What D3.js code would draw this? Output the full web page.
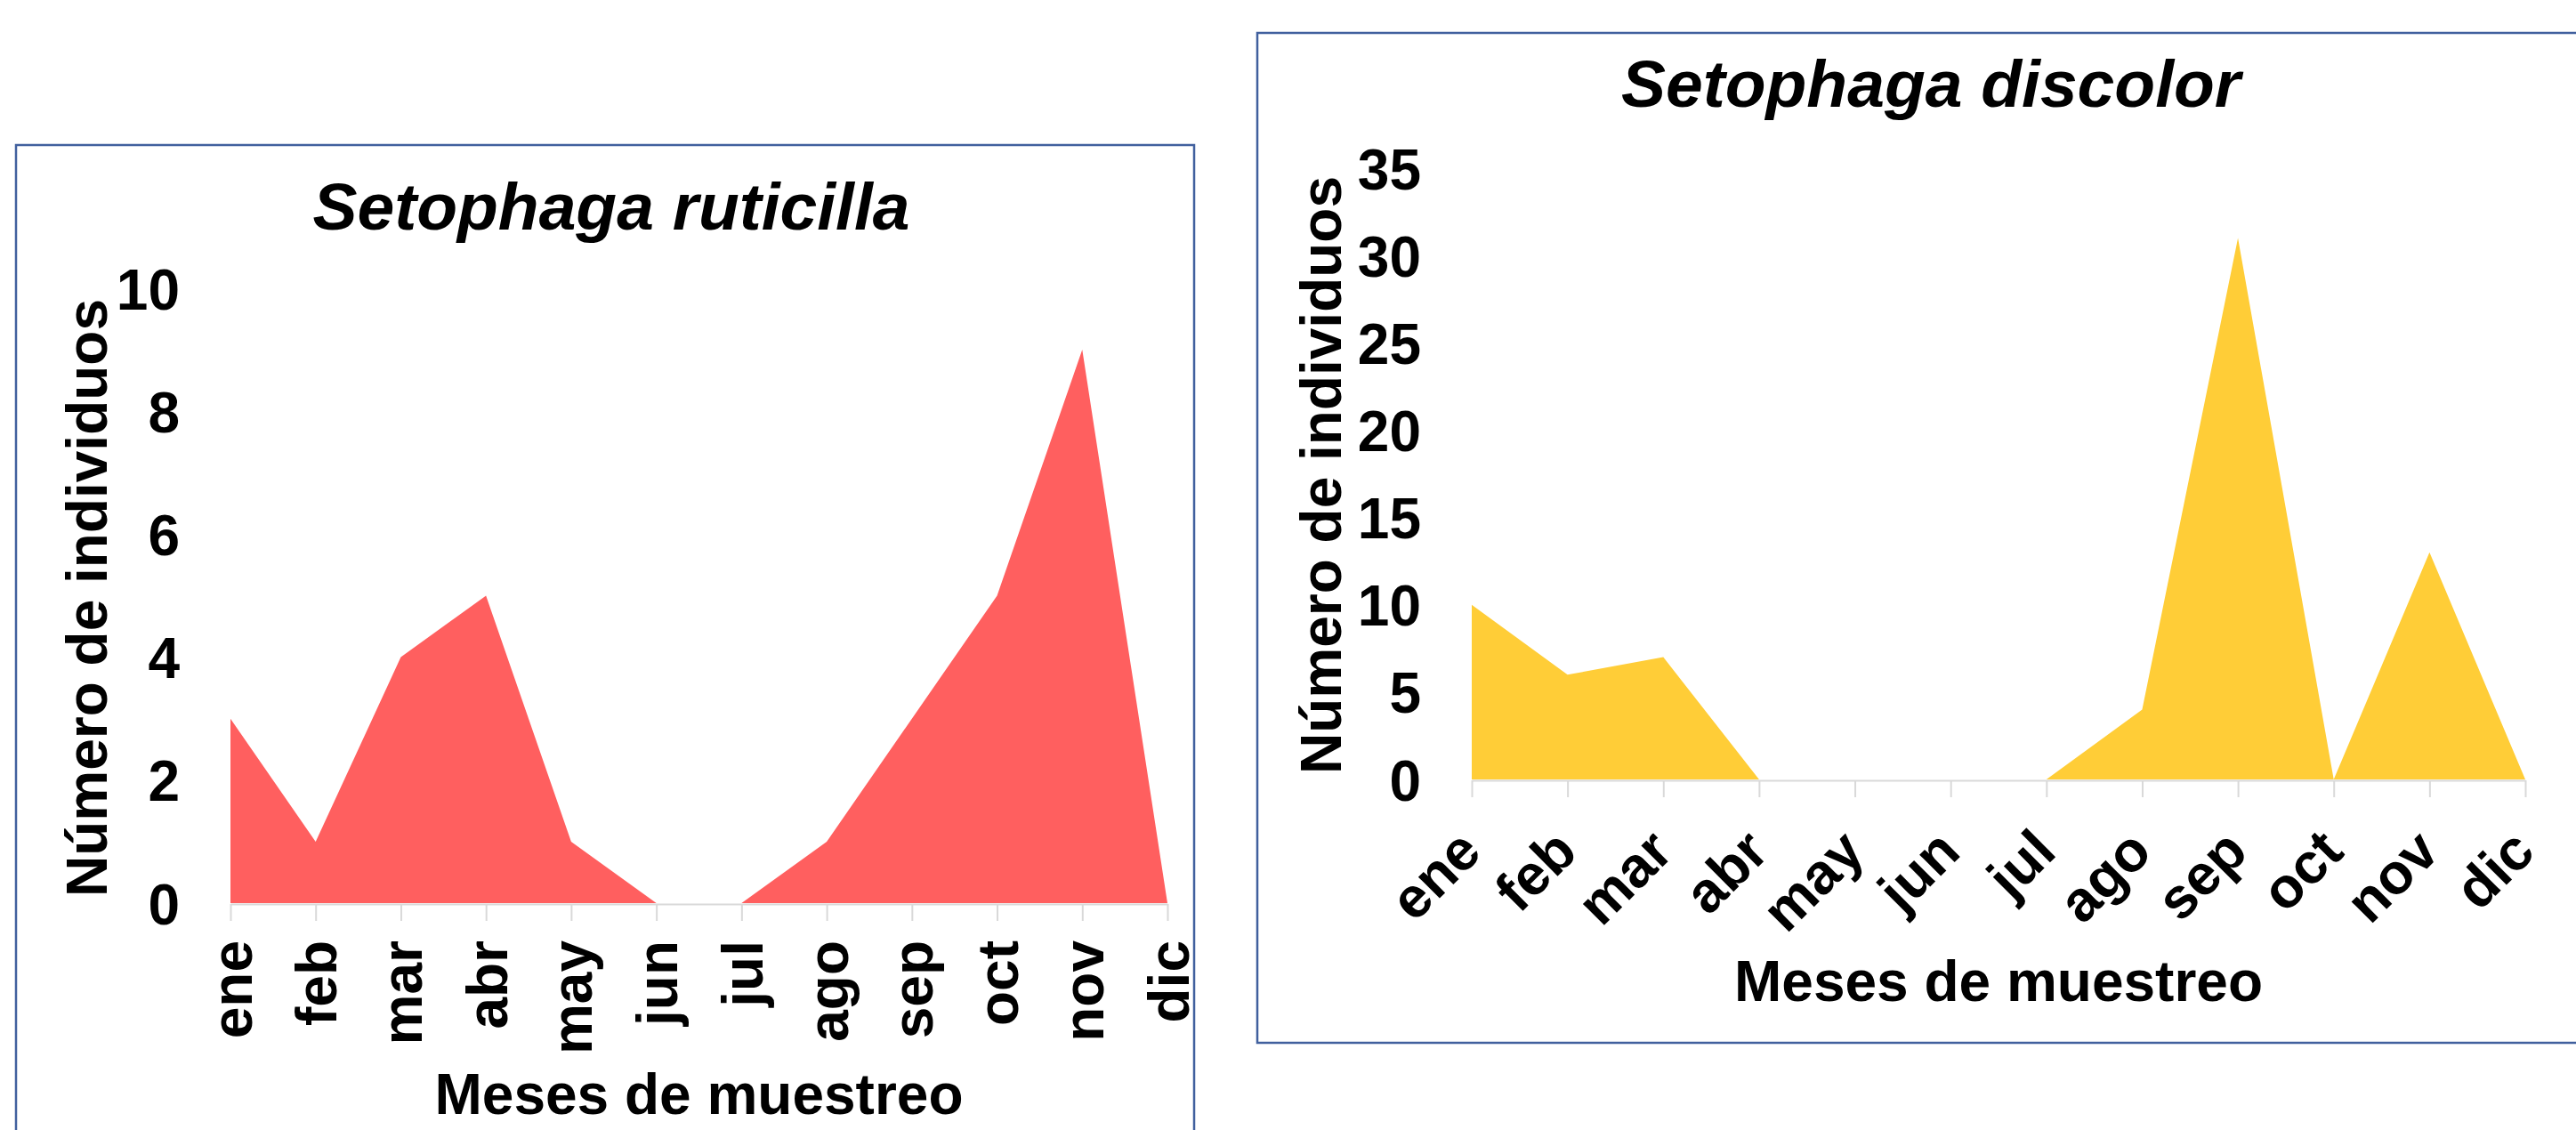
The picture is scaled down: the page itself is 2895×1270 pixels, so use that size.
<!DOCTYPE html>
<html>
<head>
<meta charset="utf-8">
<script src="https://cdn.jsdelivr.net/npm/d3@7"></script>
<style>
  html, body { margin: 0; padding: 0; background: #ffffff; }
  svg { display: block; }
  text { font-family: "Liberation Sans", Arial, sans-serif; font-weight: bold; fill: #000; }
</style>
</head>
<body>
<svg id="chart" width="2895" height="1270"></svg>
<script>
// ---- Data ----
const months = ["ene", "feb", "mar", "abr", "may", "jun", "jul", "ago", "sep", "oct", "nov", "dic"];
const ruticillaValues = [3, 1, 4, 5, 1, 0, 0, 1, 3, 5, 9, 0];
const discolorValues = [10, 6, 7, 0, 0, 0, 0, 4, 31, 0, 13, 0];
const ruticillaTicks = [0, 2, 4, 6, 8, 10];
const discolorTicks = [0, 5, 10, 15, 20, 25, 30, 35];
const titleRuticilla = "Setophaga ruticilla";
const titleDiscolor = "Setophaga discolor";
const yAxisTitle = "Número de individuos";
const xAxisTitle = "Meses de muestreo";

const svg = d3.select("#chart");

function drawChart(cfg) {
  const g = svg.append("g");

  // chart border
  g.append("rect")
    .attr("x", cfg.box[0]).attr("y", cfg.box[1])
    .attr("width", cfg.box[2] - cfg.box[0]).attr("height", cfg.box[3] - cfg.box[1])
    .attr("fill", "#ffffff")
    .attr("stroke", "#41609e")
    .attr("stroke-width", 2.5);

  const x = d3.scalePoint().domain(cfg.categories).range(cfg.xRange);
  const y = d3.scaleLinear().domain(cfg.yDomain).range(cfg.yRange);

  const rows = cfg.categories.map((c, i) => ({ c, v: cfg.values[i] }));

  const area = d3.area()
    .x(d => x(d.c))
    .y0(y(0))
    .y1(d => y(d.v));

  g.append("path")
    .datum(rows)
    .attr("d", area)
    .attr("fill", cfg.color);

  // x axis
  const xAxis = g.append("g")
    .attr("transform", `translate(0,${y(0) + 1})`)
    .call(d3.axisBottom(x).tickSize(19).tickSizeOuter(0));
  xAxis.select(".domain").attr("stroke", "#d9d9d9").attr("stroke-width", 2);
  xAxis.selectAll(".tick line").attr("stroke", "#d9d9d9").attr("stroke-width", 2);
  const xt = xAxis.selectAll(".tick text")
    .attr("font-size", 64)
    .attr("font-family", "Liberation Sans, Arial, sans-serif")
    .attr("font-weight", "bold")
    .attr("fill", "#000");
  if (cfg.rotate === -90) {
    xt.attr("transform", "rotate(-90)")
      .attr("x", -41).attr("y", 23).attr("dy", 0)
      .attr("text-anchor", "end");
  } else {
    xt.attr("x", 0).attr("y", 0).attr("dy", 0)
      .attr("transform", "translate(13,83) rotate(-45)")
      .attr("text-anchor", "end");
  }

  // y axis
  const yAxis = g.append("g")
    .attr("transform", `translate(${cfg.xRange[0]},0)`)
    .call(d3.axisLeft(y).tickValues(cfg.yTicks).tickSize(0).tickPadding(57));
  yAxis.select(".domain").remove();
  yAxis.selectAll(".tick text")
    .attr("font-size", 64)
    .attr("font-family", "Liberation Sans, Arial, sans-serif")
    .attr("font-weight", "bold")
    .attr("fill", "#000")
    .attr("dy", "0.36em");

  // title
  g.append("text")
    .attr("x", cfg.titlePos[0]).attr("y", cfg.titlePos[1])
    .attr("text-anchor", "middle")
    .attr("font-size", 75)
    .attr("font-style", "italic")
    .text(cfg.title);

  // y axis title
  g.append("text")
    .attr("transform", `translate(${cfg.yTitlePos[0]},${cfg.yTitlePos[1]}) rotate(-90)`)
    .attr("text-anchor", "middle")
    .attr("font-size", 64)
    .text(yAxisTitle);

  // x axis title
  g.append("text")
    .attr("x", (cfg.xRange[0] + cfg.xRange[1]) / 2)
    .attr("y", cfg.xTitleY)
    .attr("text-anchor", "middle")
    .attr("font-size", 64)
    .text(xAxisTitle);
}

drawChart({
  box: [18, 163, 1342, 1300],
  categories: months,
  values: ruticillaValues,
  yDomain: [0, 10],
  yTicks: ruticillaTicks,
  xRange: [259, 1312],
  yRange: [1015, 324],
  color: "#ff5f5f",
  rotate: -90,
  title: titleRuticilla,
  titlePos: [687, 258],
  yTitlePos: [120, 672],
  xTitleY: 1252
});

drawChart({
  box: [1413, 37, 2900, 1172],
  categories: months,
  values: discolorValues,
  yDomain: [0, 35],
  yTicks: discolorTicks,
  xRange: [1654, 2838],
  yRange: [876, 189],
  color: "#ffcd37",
  rotate: -45,
  title: titleDiscolor,
  titlePos: [2170, 120],
  yTitlePos: [1507, 534],
  xTitleY: 1125
});
</script>
</body>
</html>
